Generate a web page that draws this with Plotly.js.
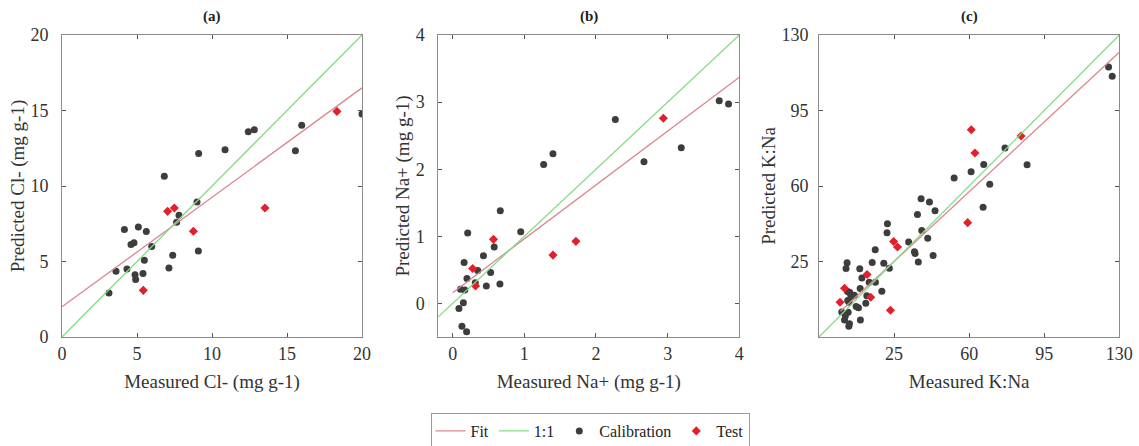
<!DOCTYPE html>
<html><head><meta charset="utf-8">
<script src="https://cdn.plot.ly/plotly-3.0.1.min.js"></script>
<style>html,body{margin:0;padding:0;background:#fff}#chart{width:1139px;height:446px}</style>
</head><body><div id="chart"></div>
<script>
// ---- Panel (a) Cl- ----
const aCalX = [3.13,3.6,4.16,4.33,4.6,4.8,4.87,4.91,5.09,5.4,5.49,5.62,5.98,6.82,7.13,7.38,7.64,7.8,9.0,9.09,9.11,10.87,12.42,12.82,15.56,15.98,20.0];
const aCalY = [2.92,4.35,7.12,4.5,6.12,6.25,4.13,3.8,7.29,4.2,5.08,6.98,6.0,10.64,4.57,5.41,7.6,8.06,8.94,5.7,12.15,12.4,13.6,13.73,12.34,14.02,14.77];
const aTestX = [5.42,7.04,7.49,8.76,13.53,18.33];
const aTestY = [3.09,8.32,8.54,7.0,8.54,14.94];
const aFitX = [0,20];
const aFitY = [2.0,16.5];
const aOneX = [0,20];
const aOneY = [0,20];

// ---- Panel (b) Na+ ----
const bCalX = [0.088,0.11,0.13,0.15,0.17,0.16,0.195,0.2,0.21,0.316,0.35,0.43,0.47,0.53,0.58,0.66,0.665,0.95,1.27,1.40,2.27,2.67,3.19,3.72,3.85];
const bCalY = [-0.075,0.21,-0.34,0.01,0.2,0.61,-0.42,0.37,1.05,0.31,0.49,0.71,0.26,0.46,0.84,0.29,1.38,1.07,2.07,2.23,2.74,2.11,2.32,3.02,2.97];
const bTestX = [0.28,0.32,0.57,1.40,1.72,2.94];
const bTestY = [0.52,0.26,0.955,0.72,0.925,2.76];
const bFitX = [0,4];
const bFitY = [0.16,3.37];
const bOneX = [-0.2,4];
const bOneY = [-0.2,4];

// ---- Panel (c) K:Na ----
const cCalX = [0.6,1.9,2.3,2.6,3.1,3.3,3.6,3.9,4.2,4.3,3.4,4.0,4.7,5.3,6.5,7.3,8.4,9.0,9.2,9.3,10.0,11.8,12.3,13.4,14.8,16.2,16.3,19.3,20.2,21.7,21.9,22.8,31.8,34.5,34.8,35.9,36.3,37.6,37.9,40.7,41.5,43.2,44.1,53.0,60.9,66.5,66.8,69.6,76.7,87.0,125.0,126.7];
const cCalY = [1.6,-2.1,-0.1,21.7,24.4,11.1,1.5,-5.0,-3.8,10.8,6.9,6.1,9.7,8.7,9.4,4.1,3.6,21.6,12.5,-2.1,17.4,5.7,9.1,15.4,24.5,30.4,15.4,11.2,24.2,38.3,42.5,21.9,34.0,29.5,28.7,46.8,24.8,54.1,39.4,35.8,52.6,27.8,48.5,63.7,66.6,50.2,70.0,60.8,77.6,69.9,115.2,110.9];
const cTestX = [-0.2,1.9,12.4,14.1,23.3,24.8,26.6,59.3,61.0,62.7,84.2];
const cTestY = [6.1,12.6,19.0,8.4,2.4,34.3,31.7,43.0,86.1,75.3,83.2];
const cFitX = [0,130];
const cFitY = [1.9,122];
const cOneX = [-10,130];
const cOneY = [-10,130];

// Tick values
const aTicks = [0,5,10,15,20];
const bTicks = [0,1,2,3,4];
const cTicks = [25,60,95,130];

const FONT = 'Liberation Serif';
const TXT = '#333333';
const FIT_COL = '#d9878f';
const ONE_COL = '#84dc84';
const CAL_COL = '#3d3d3d';
const TEST_COL = '#e3202a';

const W = 1139, H = 446;
const M = {l:55, r:15, t:30, b:105};
const PW = W - M.l - M.r, PH = H - M.t - M.b;
const dx = (p0,p1) => [(p0-M.l)/PW, (p1-M.l)/PW];
const dy = (top,bot) => [(H-M.b-bot)/PH, (H-M.b-top)/PH];

const panels = [
  {ax:'', calX:aCalX, calY:aCalY, tX:aTestX, tY:aTestY, fX:aFitX, fY:aFitY, oX:aOneX, oY:aOneY},
  {ax:'2', calX:bCalX, calY:bCalY, tX:bTestX, tY:bTestY, fX:bFitX, fY:bFitY, oX:bOneX, oY:bOneY},
  {ax:'3', calX:cCalX, calY:cCalY, tX:cTestX, tY:cTestY, fX:cFitX, fY:cFitY, oX:cOneX, oY:cOneY}
];

const traces = [];
panels.forEach((p,i) => {
  const xa = 'x'+p.ax, ya = 'y'+p.ax;
  const first = i===0;
  traces.push({x:p.calX, y:p.calY, xaxis:xa, yaxis:ya, mode:'markers', type:'scatter',
    name:'Calibration', legendgroup:'cal', showlegend:first, legendrank:3,
    marker:{symbol:'circle', size:7, color:CAL_COL}});
  traces.push({x:p.tX, y:p.tY, xaxis:xa, yaxis:ya, mode:'markers', type:'scatter',
    name:'Test', legendgroup:'test', showlegend:first, legendrank:4,
    marker:{symbol:'diamond', size:7, color:TEST_COL}});
  traces.push({x:p.fX, y:p.fY, xaxis:xa, yaxis:ya, mode:'lines', type:'scatter',
    name:'Fit', legendgroup:'fit', showlegend:first, legendrank:1,
    line:{color:FIT_COL, width:1.3}});
  traces.push({x:p.oX, y:p.oY, xaxis:xa, yaxis:ya, mode:'lines', type:'scatter',
    name:'1:1', legendgroup:'one', showlegend:first, legendrank:2,
    line:{color:ONE_COL, width:1.3}});
});

function axis(dom, range, ticks, title, anchor, labOff, titleOff){
  return {
    domain: dom, range: range, anchor: anchor, tickvals: ticks, ticktext: ticks.map(String),
    showgrid:false, zeroline:false, showline:true, mirror:'ticks', linecolor:'#8a8a8a', linewidth:1,
    ticks:'inside', ticklen:4, tickcolor:'#555', tickwidth:1,
    ticklabelstandoff: labOff,
    tickfont:{family:FONT, size:18, color:TXT},
    title:{text:title, font:{family:FONT, size:19, color:TXT}, standoff: titleOff},
    automargin:false, fixedrange:true
  };
}

const layout = {
  width:W, height:H, margin:M, paper_bgcolor:'#fff', plot_bgcolor:'#fff',
  font:{family:FONT},
  showlegend:true,
  legend:{orientation:'h', xref:'container', yref:'container', x:590/W, xanchor:'center',
    y:(H-413)/H, yanchor:'top',
    font:{family:FONT, size:16, color:'#222'}, bordercolor:'#9a9a9a', borderwidth:1, bgcolor:'#fff',
    itemwidth:30, tracegroupgap:0},
  xaxis: axis(dx(62,362), [0,20], aTicks, 'Measured Cl- (mg g-1)', 'y', 0, 12),
  yaxis: axis(dy(35,337), [0,20], aTicks, 'Predicted Cl- (mg g-1)', 'x', 9, 0),
  xaxis2: axis(dx(438.3,739.3), [-0.2,4], bTicks, 'Measured Na+ (mg g-1)', 'y2', 0, 12),
  yaxis2: axis(dy(35,337), [-0.5,4], bTicks, 'Predicted Na+ (mg g-1)', 'x2', 9, 1),
  xaxis3: axis(dx(819,1119.3), [-10,130], cTicks, 'Measured K:Na', 'y3', 0, 12),
  yaxis3: axis(dy(35,337), [-10,130], cTicks, 'Predicted K:Na', 'x3', 6, 0),
  annotations: [
    {text:'(a)', x:212, y:17},
    {text:'(b)', x:589, y:17},
    {text:'(c)', x:969, y:17}
  ].map(a => ({text:a.text, xref:'paper', yref:'paper', x:(a.x-M.l)/PW, y:(H-M.b-a.y)/PH,
      xanchor:'center', yanchor:'middle', showarrow:false,
      font:{family:FONT, size:15, color:'#222', weight:'bold'}}))
};

Plotly.newPlot('chart', traces, layout, {displayModeBar:false, staticPlot:true});
</script>
</body></html>
